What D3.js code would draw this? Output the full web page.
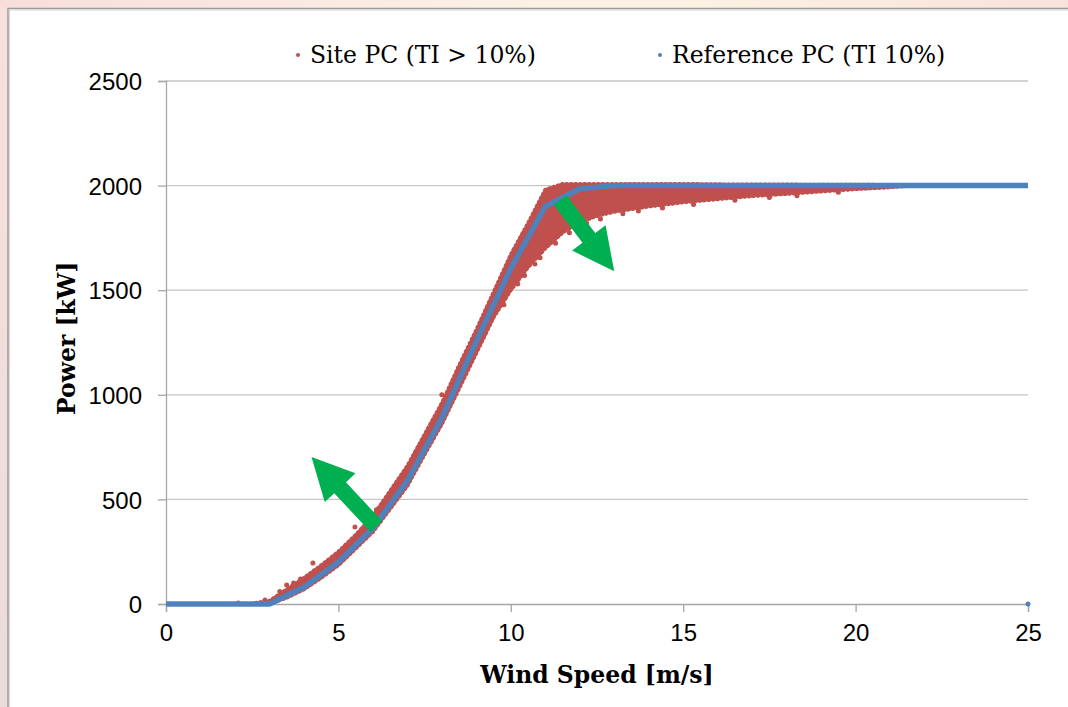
<!DOCTYPE html>
<html>
<head>
<meta charset="utf-8">
<script src="https://cdn.jsdelivr.net/npm/d3@7"></script>
<style>
  body { margin: 0; background: #fff; }
  svg { display: block; }
</style>
</head>
<body>
<svg id="chart"></svg>
<script>
// Reference power curve (TI 10%)
const refWs = [0, 1, 2, 3, 4, 5, 6, 7, 8, 9, 10, 11, 12, 13, 14, 15, 16, 17, 18, 19, 20, 21, 22, 23, 24, 25];
const refKw = [0, 0, 0, 0, 80, 200, 362, 588, 889, 1255, 1604, 1900, 1985, 2000, 2000, 2000, 2000, 2000, 2000, 2000, 2000, 2000, 2000, 2000, 2000, 2000];
const cutOutWs = [25];
const cutOutKw = [0];

// Site power curve (TI > 10%): envelope of the dense cloud
const siteWs   = [2.6, 3.0, 3.5, 4.0, 4.5, 5.0, 5.5, 6.0, 6.5, 7.0, 7.5, 8.0, 8.5, 9.0, 9.5, 10.0, 10.5, 11.0, 11.5, 12.0, 12.5, 13, 14, 15, 16, 17, 18, 19, 20, 21, 21.5];
const siteHigh = [5, 15, 70, 125, 185, 250, 330, 420, 540, 660, 810, 960, 1140, 1310, 1490, 1670, 1820, 1980, 2008, 2008, 2008, 2008, 2008, 2008, 2006, 2005, 2005, 2004, 2004, 2003, 2000];
const siteLow  = [0, 0, 30, 70, 125, 185, 265, 345, 455, 565, 715, 860, 1030, 1200, 1370, 1500, 1610, 1700, 1775, 1825, 1855, 1875, 1900, 1920, 1935, 1950, 1960, 1972, 1983, 1992, 1998];
// Site points lying outside the dense band
const outWs = [2.1, 2.87, 3.3, 3.5, 3.7, 3.9, 4.26, 4.5, 4.7, 5.05, 5.48, 6.1, 8.0, 9.8, 10.2, 10.4, 10.7, 10.85, 11.3, 11.7, 12.0, 12.2, 12.6, 13.25, 13.7, 14.4, 15.3, 16.5, 17.5, 18.3, 19.5];
const outKw = [5, 19, 60, 91, 100, 120, 196, 175, 200, 234, 368, 450, 1000, 1430, 1530, 1570, 1625, 1655, 1725, 1775, 1805, 1820, 1840, 1865, 1878, 1893, 1910, 1930, 1943, 1952, 1968];

const xTicks = [0, 5, 10, 15, 20, 25];
const yTicks = [0, 500, 1000, 1500, 2000, 2500];

// Annotation arrows [tailWs, tailKw, tipWs, tipKw]
const arrows = [
  [6.1, 370, 4.22, 703],
  [11.43, 1931, 13.0, 1590]
];

const W = 1068, H = 707;
const margin = {top: 81, right: 40, bottom: 103, left: 166};
const width = W - margin.left - margin.right;
const height = H - margin.top - margin.bottom;

const svg = d3.select("#chart").attr("width", W).attr("height", H);

// Slide background and frame
const defs = svg.append("defs");
const gTop = defs.append("linearGradient").attr("id", "bgTop")
  .attr("x1", "0%").attr("x2", "100%").attr("y1", "0%").attr("y2", "0%");
gTop.append("stop").attr("offset", "0%").attr("stop-color", "#F8DEDB");
gTop.append("stop").attr("offset", "45%").attr("stop-color", "#FCF0E4");
gTop.append("stop").attr("offset", "65%").attr("stop-color", "#FCF2E2");
gTop.append("stop").attr("offset", "100%").attr("stop-color", "#F9E2DA");
const gLeft = defs.append("linearGradient").attr("id", "bgLeft")
  .attr("x1", "0%").attr("x2", "0%").attr("y1", "0%").attr("y2", "100%");
gLeft.append("stop").attr("offset", "0%").attr("stop-color", "#F9E1DC");
gLeft.append("stop").attr("offset", "100%").attr("stop-color", "#EADCDC");

svg.append("rect").attr("width", W).attr("height", H).attr("fill", "url(#bgLeft)");
svg.append("rect").attr("width", W).attr("height", 9).attr("fill", "url(#bgTop)");
svg.append("rect").attr("x", 8).attr("y", 8).attr("width", W).attr("height", H)
  .attr("fill", "#fff");
svg.append("path").attr("d", `M8,${H}V8.5H${W}`)
  .attr("fill", "none").attr("stroke", "#9A9A9A").attr("stroke-width", 1.5);
svg.append("path").attr("d", `M9.5,${H}V10H${W}`)
  .attr("fill", "none").attr("stroke", "#D8D8D8").attr("stroke-width", 1);

const g = svg.append("g").attr("transform", `translate(${margin.left},${margin.top})`);

const x = d3.scaleLinear().domain([0, 25]).range([0, width]);
const y = d3.scaleLinear().domain([0, 2500]).range([height, 0]);

// Gridlines
g.append("g")
  .selectAll("line")
  .data(yTicks.filter(d => d > 0))
  .enter().append("line")
  .attr("x1", 0).attr("x2", width)
  .attr("y1", d => y(d)).attr("y2", d => y(d))
  .attr("stroke", "#C6C6C6").attr("stroke-width", 1.3);

// Axes
const xAxis = d3.axisBottom(x).tickValues(xTicks).tickSize(8).tickPadding(12).tickFormat(d3.format("d"));
const yAxis = d3.axisLeft(y).tickValues(yTicks).tickSize(8).tickPadding(16).tickFormat(d3.format("d"));

const gx = g.append("g").attr("transform", `translate(0,${height})`).call(xAxis);
const gy = g.append("g").call(yAxis);
[gx, gy].forEach(a => {
  a.select(".domain").attr("stroke", "#A6A6A6").attr("stroke-width", 1.3);
  a.selectAll(".tick line").attr("stroke", "#A6A6A6").attr("stroke-width", 1.3);
  a.selectAll("text")
    .style("font-family", "'Liberation Sans', Arial, sans-serif")
    .style("font-size", "24px")
    .attr("fill", "#000");
});
gy.selectAll("text").attr("dy", "0.36em");

// Site cloud (band + scattered points)
const red = "#C0504D";
const band = d3.area()
  .x((d, i) => x(siteWs[i]))
  .y0((d, i) => y(siteLow[i]))
  .y1((d, i) => y(siteHigh[i]));
g.append("path")
  .datum(siteWs)
  .attr("d", band)
  .attr("fill", red)
  .attr("stroke", red)
  .attr("stroke-width", 4)
  .attr("stroke-linecap", "round")
  .attr("stroke-dasharray", "1 3.5");

g.append("g")
  .selectAll("circle")
  .data(outWs)
  .enter().append("circle")
  .attr("cx", (d, i) => x(outWs[i]))
  .attr("cy", (d, i) => y(outKw[i]))
  .attr("r", 2.5)
  .attr("fill", red);

// Reference curve
const blue = "#4F81BD";
const line = d3.line()
  .x((d, i) => x(refWs[i]))
  .y((d, i) => y(refKw[i]));
g.append("path")
  .datum(refWs)
  .attr("d", line)
  .attr("fill", "none")
  .attr("stroke", blue)
  .attr("stroke-width", 5.5)
  .attr("stroke-linejoin", "round");

g.append("g")
  .selectAll("circle")
  .data(cutOutWs)
  .enter().append("circle")
  .attr("cx", (d, i) => x(cutOutWs[i]))
  .attr("cy", (d, i) => y(cutOutKw[i]))
  .attr("r", 2.5)
  .attr("fill", blue);

// Green arrows
const green = "#00B050";
arrows.forEach(a => {
  const x0 = x(a[0]), y0 = y(a[1]), x1 = x(a[2]), y1 = y(a[3]);
  const len = Math.hypot(x1 - x0, y1 - y0);
  const ang = Math.atan2(y1 - y0, x1 - x0) * 180 / Math.PI;
  const shaft = 8, head = 21, headLen = 42;
  const pts = [
    [0, -shaft], [len - headLen, -shaft], [len - headLen, -head],
    [len, 0], [len - headLen, head], [len - headLen, shaft], [0, shaft]
  ];
  g.append("path")
    .attr("d", "M" + pts.map(p => p.join(",")).join("L") + "Z")
    .attr("transform", `translate(${x0},${y0}) rotate(${ang})`)
    .attr("fill", green);
});

// Axis titles
const titleFont = "'DejaVu Serif', Georgia, serif";
g.append("text")
  .attr("x", x(12.5)).attr("y", height + 79)
  .attr("text-anchor", "middle")
  .style("font-family", titleFont).style("font-weight", "bold").style("font-size", "23.5px")
  .text("Wind Speed [m/s]");
g.append("text")
  .attr("transform", "rotate(-90)")
  .attr("x", -y(1270)).attr("y", -margin.left + 75)
  .attr("text-anchor", "middle")
  .style("font-family", titleFont).style("font-weight", "bold").style("font-size", "23.5px")
  .text("Power [kW]");

// Legend
const legend = [
  {label: "Site PC (TI > 10%)", color: red, x: 298},
  {label: "Reference PC (TI 10%)", color: blue, x: 660}
];
const lg = svg.append("g");
legend.forEach(d => {
  lg.append("circle").attr("cx", d.x).attr("cy", 55).attr("r", 2).attr("fill", d.color);
  lg.append("text").attr("x", d.x + 12).attr("y", 63)
    .style("font-family", "'DejaVu Serif', Georgia, serif").style("font-size", "23.5px")
    .text(d.label);
});
</script>
</body>
</html>
